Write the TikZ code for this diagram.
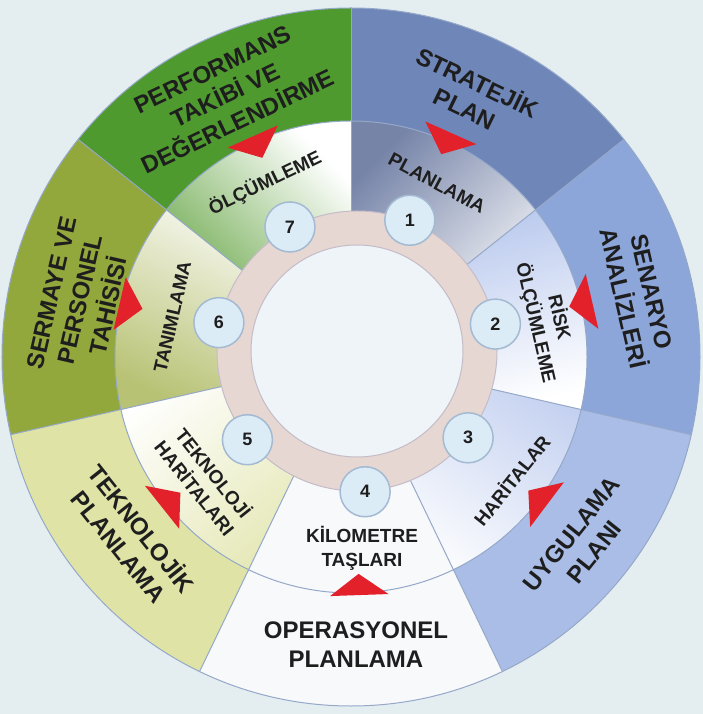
\documentclass[tikz,border=0pt]{standalone}
\usepackage{fontspec}
\setmainfont{Liberation Sans}

\definecolor{bgcol}{HTML}{E4EEF1}
\definecolor{stratcol}{HTML}{6F86B8}
\definecolor{senacol}{HTML}{8DA6DA}
\definecolor{uygcol}{HTML}{A9BDE6}
\definecolor{opcol}{HTML}{F7F9FB}
\definecolor{teknocol}{HTML}{DFE3A6}
\definecolor{sermcol}{HTML}{93A83C}
\definecolor{perfcol}{HTML}{4F9A2E}
\definecolor{plandark}{HTML}{7684A8}
\definecolor{riskblue}{HTML}{B3C4EC}
\definecolor{harblue}{HTML}{C3D0F0}
\definecolor{teknopale}{HTML}{E3E6B0}
\definecolor{tanimolive}{HTML}{B8C274}
\definecolor{olcgreen}{HTML}{5DA03A}
\definecolor{sepgray}{HTML}{95A8C8}
\definecolor{ringcol}{HTML}{E6D7D2}
\definecolor{ringedge}{HTML}{C4BCC8}
\definecolor{centercol}{HTML}{EEF4F7}
\definecolor{numfill}{HTML}{DCECF7}
\definecolor{numedge}{HTML}{A3BAD2}
\definecolor{arrowred}{HTML}{E3212B}
\definecolor{txtgray}{HTML}{1E1E1E}

\begin{document}
\begin{tikzpicture}[x=1pt,y=1pt,
    outerlbl/.style={font=\fontsize{24}{29}\selectfont\bfseries, text=txtgray, align=center, inner sep=0pt},
    innerlbl/.style={font=\fontsize{19}{24}\selectfont\bfseries, text=txtgray, align=center, inner sep=0pt},
    numcirc/.style={circle, draw=numedge, line width=1.5pt, fill=numfill, minimum size=50pt, inner sep=0pt, text=txtgray, font=\fontsize{18}{18}\selectfont\bfseries},
    sepline/.style={draw=sepgray, line width=1pt},
    redtri/.style={fill=arrowred}]

	% Background
	\useasboundingbox (-351,-357) rectangle (352,357);
	\fill[bgcol] (-351,-357) rectangle (352,357);

	% Outer ring
	\fill[stratcol] (90:236) -- (90:349) arc[start angle=90, end angle=38.57, radius=349] -- (38.57:236) arc[start angle=38.57, end angle=90, radius=236] -- cycle;
	\fill[senacol] (38.57:236) -- (38.57:349) arc[start angle=38.57, end angle=-12.86, radius=349] -- (-12.86:236) arc[start angle=-12.86, end angle=38.57, radius=236] -- cycle;
	\fill[uygcol] (-12.86:236) -- (-12.86:349) arc[start angle=-12.86, end angle=-64.29, radius=349] -- (-64.29:236) arc[start angle=-64.29, end angle=-12.86, radius=236] -- cycle;
	\fill[opcol] (-64.29:236) -- (-64.29:349) arc[start angle=-64.29, end angle=-115.71, radius=349] -- (-115.71:236) arc[start angle=-115.71, end angle=-64.29, radius=236] -- cycle;
	\fill[teknocol] (-115.71:236) -- (-115.71:349) arc[start angle=-115.71, end angle=-167.14, radius=349] -- (-167.14:236) arc[start angle=-167.14, end angle=-115.71, radius=236] -- cycle;
	\fill[sermcol] (192.86:236) -- (192.86:349) arc[start angle=192.86, end angle=141.43, radius=349] -- (141.43:236) arc[start angle=141.43, end angle=192.86, radius=236] -- cycle;
	\fill[perfcol] (141.43:236) -- (141.43:349) arc[start angle=141.43, end angle=90, radius=349] -- (90:236) arc[start angle=90, end angle=141.43, radius=236] -- cycle;

	% Middle ring
	\shade[top color=plandark, bottom color=white, shading angle=45] (0,0) -- (90:236) arc[start angle=90, end angle=38.57, radius=236] -- cycle;
	\shade[top color=riskblue, bottom color=white, shading angle=15] (0,0) -- (38.57:236) arc[start angle=38.57, end angle=-12.86, radius=236] -- cycle;
	\shade[top color=harblue, bottom color=white, shading angle=-35] (0,0) -- (-12.86:236) arc[start angle=-12.86, end angle=-64.29, radius=236] -- cycle;
	\fill[opcol] (0,0) -- (-64.29:236) arc[start angle=-64.29, end angle=-115.71, radius=236] -- cycle;
	\shade[top color=white, bottom color=teknopale, shading angle=40] (0,0) -- (-115.71:236) arc[start angle=-115.71, end angle=-167.14, radius=236] -- cycle;
	\shade[top color=white, bottom color=tanimolive, shading angle=-25] (0,0) -- (192.86:236) arc[start angle=192.86, end angle=141.43, radius=236] -- cycle;
	\shade[top color=white, bottom color=olcgreen, shading angle=-45] (0,0) -- (141.43:236) arc[start angle=141.43, end angle=90, radius=236] -- cycle;

	% Dividing lines
	\draw[sepline] (90:120) -- (90:349);
	\draw[sepline] (38.57:120) -- (38.57:349);
	\draw[sepline] (-12.86:120) -- (-12.86:349);
	\draw[sepline] (-64.29:120) -- (-64.29:349);
	\draw[sepline] (-115.71:120) -- (-115.71:349);
	\draw[sepline] (-167.14:120) -- (-167.14:349);
	\draw[sepline] (141.43:120) -- (141.43:349);
	\draw[sepline] (0,0) circle[radius=236];
	\draw[sepline] (0,0) circle[radius=349];

	% Inner ring
	\coordinate (ringc) at (6,6);
	\fill[ringcol, draw=ringedge, line width=1pt] (ringc) circle[radius=140];
	\fill[centercol, draw=ringedge, line width=1pt] (ringc) circle[radius=106];

	% Red markers
	\fill[redtri] (59.5:247) -- (72.5:247) -- (66:222) -- cycle;
	\fill[redtri] (6.5:249) -- (19.5:249) -- (13:224) -- cycle;
	\fill[redtri] (-43.5:247) -- (-30.5:247) -- (-37:222) -- cycle;
	\fill[redtri] (-95:240) -- (-81:240) -- (-88:217) -- cycle;
	\fill[redtri] (-148:243) -- (-135:243) -- (-141.5:218) -- cycle;
	\fill[redtri] (160.5:239) -- (173.5:239) -- (167:214) -- cycle;
	\fill[redtri] (107.5:243) -- (120.5:243) -- (114:218) -- cycle;

	% Outer labels
	\node[outerlbl, rotate=-25.7] (strat) at (65.3:289) {STRATEJİK\\PLAN};
	\node[outerlbl, rotate=-77.1] (senaryo) at (12.2:293) {SENARYO\\ANALİZLERİ};
	\node[outerlbl, rotate=51.4] (uygulama) at (-38.7:297) {UYGULAMA\\PLANI};
	\node[outerlbl] (operasyon) at (5,-288) {OPERASYONEL\\PLANLAMA};
	\node[outerlbl, rotate=-51.4] (teknolojik) at (-140.7:284) {TEKNOLOJİK\\PLANLAMA};
	\node[outerlbl, rotate=77.1] (sermaye) at (168:277) {SERMAYE VE\\PERSONEL\\TAHİSİSİ};
	\node[outerlbl, rotate=25.7] (performans) at (115.7:290) {PERFORMANS\\TAKİBİ VE\\DEĞERLENDİRME};

	% Middle labels
	\node[innerlbl, rotate=-28] (planlama) at (63.7:194) {PLANLAMA};
	\node[innerlbl, rotate=-77.1] (risk) at (10.6:200) {RİSK\\ÖLÇÜMLEME};
	\node[innerlbl, rotate=51.4] (haritalar) at (-37.5:202) {HARİTALAR};
	\node[innerlbl] (kilometre) at (11,-191) {KİLOMETRE\\TAŞLARI};
	\node[innerlbl, rotate=-51.4] (teknoharita) at (-139.9:191) {TEKNOLOJİ\\HARİTALARI};
	\node[innerlbl, rotate=77.1] (tanimlama) at (167.4:183) {TANIMLAMA};
	\node[innerlbl, rotate=25.7] (olcumleme) at (116.3:194) {ÖLÇÜMLEME};

	% Step numbers
	\node[numcirc] (n1) at ([shift={(68:141)}]ringc) {1};
	\node[numcirc] (n2) at ([shift={(11:141)}]ringc) {2};
	\node[numcirc] (n3) at ([shift={(-38:141)}]ringc) {3};
	\node[numcirc] (n4) at ([shift={(-86.7:141)}]ringc) {4};
	\node[numcirc] (n5) at ([shift={(-141:141)}]ringc) {5};
	\node[numcirc] (n6) at ([shift={(168.4:141)}]ringc) {6};
	\node[numcirc] (n7) at ([shift={(118.4:141)}]ringc) {7};

\end{tikzpicture}
\end{document}
